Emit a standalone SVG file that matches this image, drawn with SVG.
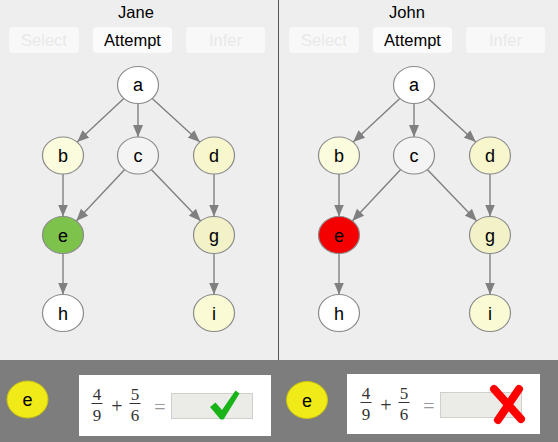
<svg xmlns="http://www.w3.org/2000/svg" width="558" height="442" viewBox="0 0 558 442">
<style>
.title{font-family:"Liberation Sans",Arial,sans-serif;font-size:16.5px;fill:#000;text-anchor:middle}
.btn{fill:#f8f8f8}
.btnon{fill:#fbfbfb}
.btxt{font-family:"Liberation Sans",Arial,sans-serif;font-size:16.5px;text-anchor:middle;fill:#e9e9e9}
.btxton{fill:#000}
.node{stroke:#8a8a8a;stroke-width:1.2}
.lbl{font-family:"Liberation Sans",Arial,sans-serif;font-size:18px;text-anchor:middle;fill:#000}
.edge{stroke:#808080;stroke-width:1.4;fill:none;marker-end:url(#arr)}
.frac{font-family:"Liberation Serif","Times New Roman",serif;font-size:17px;text-anchor:middle;fill:#333}
.bar{stroke:#333;stroke-width:1}
.op{font-family:"Liberation Serif","Times New Roman",serif;font-size:20px;text-anchor:middle}
.inbox{fill:#ebebe7;stroke:#cfcfcb;stroke-width:1}
.yel{fill:#efea18;stroke:#c9c410;stroke-width:1}
</style>
<defs>
<marker id="arr" markerUnits="userSpaceOnUse" markerWidth="13" markerHeight="11" refX="12" refY="5.5" orient="auto">
<path d="M0,0.5 L12,5.5 L0,10.5 Z" fill="#808080"/>
</marker>
</defs>
<rect x="0" y="0" width="558" height="442" fill="#eeeeee"/>
<line x1="278.5" y1="0" x2="278.5" y2="360" stroke="#555" stroke-width="1"/>

<!-- Jane panel header -->
<g id="jane-header">
<text class="title" x="136" y="18">Jane</text>
<rect class="btn" x="9" y="27" width="70" height="26" rx="4"/>
<text class="btxt" x="44" y="46">Select</text>
<rect class="btnon" x="93" y="27" width="79" height="26" rx="4"/>
<text class="btxt btxton" x="132.5" y="46">Attempt</text>
<rect class="btn" x="186" y="27" width="79" height="26" rx="4"/>
<text class="btxt" x="225.5" y="46">Infer</text>
</g>

<!-- John panel header -->
<g id="john-header">
<text class="title" x="407" y="18">John</text>
<rect class="btn" x="289" y="27" width="70" height="26" rx="4"/>
<text class="btxt" x="324" y="46">Select</text>
<rect class="btnon" x="373" y="27" width="79" height="26" rx="4"/>
<text class="btxt btxton" x="412.5" y="46">Attempt</text>
<rect class="btn" x="466" y="27" width="79" height="26" rx="4"/>
<text class="btxt" x="505.5" y="46">Infer</text>
</g>

<!-- connectors -->
<g id="connectors">
<g id="jane-edges">
<line class="edge" x1="123.8" y1="98.4" x2="77.2" y2="142.1"/>
<line class="edge" x1="138" y1="103.5" x2="138" y2="137"/>
<line class="edge" x1="152.2" y1="98.4" x2="199.8" y2="142.1"/>
<line class="edge" x1="63" y1="174" x2="63" y2="216.5"/>
<line class="edge" x1="214" y1="174" x2="214" y2="216.5"/>
<line class="edge" x1="124.7" y1="169.6" x2="76.3" y2="220.9"/>
<line class="edge" x1="151.3" y1="169.6" x2="200.7" y2="220.9"/>
<line class="edge" x1="63" y1="253.5" x2="63" y2="294.5"/>
<line class="edge" x1="214" y1="253.5" x2="214" y2="294.5"/>
</g>
<g id="john-edges" transform="translate(276,0)">
<line class="edge" x1="123.8" y1="98.4" x2="77.2" y2="142.1"/>
<line class="edge" x1="138" y1="103.5" x2="138" y2="137"/>
<line class="edge" x1="152.2" y1="98.4" x2="199.8" y2="142.1"/>
<line class="edge" x1="63" y1="174" x2="63" y2="216.5"/>
<line class="edge" x1="214" y1="174" x2="214" y2="216.5"/>
<line class="edge" x1="124.7" y1="169.6" x2="76.3" y2="220.9"/>
<line class="edge" x1="151.3" y1="169.6" x2="200.7" y2="220.9"/>
<line class="edge" x1="63" y1="253.5" x2="63" y2="294.5"/>
<line class="edge" x1="214" y1="253.5" x2="214" y2="294.5"/>
</g>
</g>

<!-- Jane nodes -->
<g id="jane-a"><ellipse class="node" cx="138" cy="85" rx="20.5" ry="18.5" fill="#ffffff"/><text class="lbl" x="138" y="91">a</text></g>
<g id="jane-b"><ellipse class="node" cx="63" cy="155.5" rx="20.5" ry="18.5" fill="#fbfbdd"/><text class="lbl" x="63" y="162">b</text></g>
<g id="jane-c"><ellipse class="node" cx="138" cy="155.5" rx="20.5" ry="18.5" fill="#f4f4f4"/><text class="lbl" x="138" y="162">c</text></g>
<g id="jane-d"><ellipse class="node" cx="214" cy="155.5" rx="20.5" ry="18.5" fill="#f8f6cc"/><text class="lbl" x="214" y="162">d</text></g>
<g id="jane-e"><ellipse class="node" cx="63" cy="235" rx="20.5" ry="18.5" fill="#7dc24b" stroke="#6b9f40"/><text class="lbl" x="63" y="241.5">e</text></g>
<g id="jane-g"><ellipse class="node" cx="214" cy="235" rx="20.5" ry="18.5" fill="#f3f1c8"/><text class="lbl" x="214" y="241.5">g</text></g>
<g id="jane-h"><ellipse class="node" cx="63" cy="313" rx="20.5" ry="18.5" fill="#ffffff"/><text class="lbl" x="63" y="319.5">h</text></g>
<g id="jane-i"><ellipse class="node" cx="214" cy="313" rx="20.5" ry="18.5" fill="#fafad4"/><text class="lbl" x="214" y="319.5">i</text></g>

<!-- John nodes -->
<g id="john-a"><ellipse class="node" cx="414" cy="85" rx="20.5" ry="18.5" fill="#ffffff"/><text class="lbl" x="414" y="91">a</text></g>
<g id="john-b"><ellipse class="node" cx="339" cy="155.5" rx="20.5" ry="18.5" fill="#fbfbdd"/><text class="lbl" x="339" y="162">b</text></g>
<g id="john-c"><ellipse class="node" cx="414" cy="155.5" rx="20.5" ry="18.5" fill="#f4f4f4"/><text class="lbl" x="414" y="162">c</text></g>
<g id="john-d"><ellipse class="node" cx="490" cy="155.5" rx="20.5" ry="18.5" fill="#f8f6cc"/><text class="lbl" x="490" y="162">d</text></g>
<g id="john-e"><ellipse class="node" cx="339" cy="235" rx="20.5" ry="18.5" fill="#f50000" stroke="#c00000"/><text class="lbl" x="339" y="241.5" fill="#300000">e</text></g>
<g id="john-g"><ellipse class="node" cx="490" cy="235" rx="20.5" ry="18.5" fill="#f3f1c8"/><text class="lbl" x="490" y="241.5">g</text></g>
<g id="john-h"><ellipse class="node" cx="339" cy="313" rx="20.5" ry="18.5" fill="#ffffff"/><text class="lbl" x="339" y="319.5">h</text></g>
<g id="john-i"><ellipse class="node" cx="490" cy="313" rx="20.5" ry="18.5" fill="#fafad4"/><text class="lbl" x="490" y="319.5">i</text></g>

<!-- bottom band -->
<rect x="0" y="360" width="558" height="82" fill="#7d7d7d"/>

<g id="jane-answer">
<ellipse class="yel" cx="27.5" cy="399.5" rx="20.5" ry="18.5"/>
<text class="lbl" x="27.5" y="406">e</text>
<rect x="79" y="375" width="192" height="61" fill="#ffffff"/>
<text class="frac" x="97" y="400">4</text>
<line class="bar" x1="91.5" y1="403.5" x2="102.5" y2="403.5"/>
<text class="frac" x="97" y="421">9</text>
<text class="op" x="117" y="413" fill="#333">+</text>
<text class="frac" x="135" y="400">5</text>
<line class="bar" x1="129.5" y1="403.5" x2="140.5" y2="403.5"/>
<text class="frac" x="135" y="421">6</text>
<text class="op" x="160" y="414" fill="#999">=</text>
<rect class="inbox" x="171.5" y="393.5" width="81" height="25"/>
<path d="M210,407 L215.5,402.5 L222,410 L235.5,390.5 L239.5,393.5 L223.5,419.5 L220.5,419.5 Z" fill="#18b418"/>
</g>

<g id="john-answer">
<ellipse class="yel" cx="307" cy="400" rx="20.5" ry="18.5"/>
<text class="lbl" x="307" y="406.5">e</text>
<rect x="347" y="374" width="193" height="60" fill="#ffffff"/>
<text class="frac" x="366" y="399">4</text>
<line class="bar" x1="360.5" y1="402.5" x2="371.5" y2="402.5"/>
<text class="frac" x="366" y="420">9</text>
<text class="op" x="386" y="412" fill="#333">+</text>
<text class="frac" x="404" y="399">5</text>
<line class="bar" x1="398.5" y1="402.5" x2="409.5" y2="402.5"/>
<text class="frac" x="404" y="420">6</text>
<text class="op" x="429" y="413" fill="#999">=</text>
<rect class="inbox" x="440.5" y="392.5" width="81" height="25"/>
<g stroke="#ff0000" stroke-width="8" stroke-linecap="round">
<line x1="494" y1="389" x2="521" y2="419"/>
<line x1="519" y1="389" x2="498" y2="420"/>
</g>
</g>
</svg>
